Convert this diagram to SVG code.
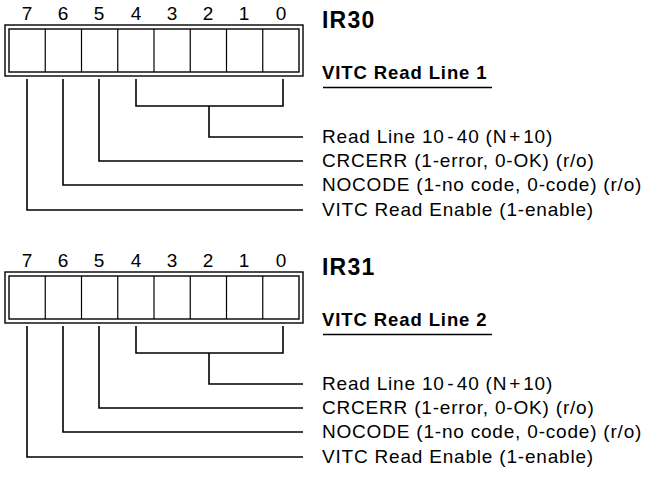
<svg xmlns="http://www.w3.org/2000/svg" width="656" height="480" viewBox="0 0 656 480">
<style>
.box{fill:none;stroke:#000;stroke-width:1.4}
.cell{stroke:#000;stroke-width:1.2}
.num{font-family:"Liberation Sans",Arial,sans-serif;font-size:19px;text-anchor:middle;fill:#000}
.lbl{font-family:"Liberation Sans",Arial,sans-serif;font-size:19px;letter-spacing:0.8px;fill:#000}
.title{font-family:"Liberation Sans",Arial,sans-serif;font-size:23px;font-weight:bold;letter-spacing:1.2px;fill:#000}
.sub{font-family:"Liberation Sans",Arial,sans-serif;font-size:18.5px;font-weight:bold;letter-spacing:0.9px;fill:#000}
.wire{fill:none;stroke:#000;stroke-width:1.6}
</style>
<defs>
<g id="reg">
<rect class="box" x="5" y="25" width="298" height="51"/>
<rect class="box" x="9" y="29" width="290" height="43"/>
<g class="cell">
<line x1="45.25" y1="29" x2="45.25" y2="72"/>
<line x1="81.5" y1="29" x2="81.5" y2="72"/>
<line x1="117.75" y1="29" x2="117.75" y2="72"/>
<line x1="154" y1="29" x2="154" y2="72"/>
<line x1="190.25" y1="29" x2="190.25" y2="72"/>
<line x1="226.5" y1="29" x2="226.5" y2="72"/>
<line x1="262.75" y1="29" x2="262.75" y2="72"/>
</g>
<g class="num">
<text x="27" y="20">7</text><text x="63" y="20">6</text><text x="99" y="20">5</text><text x="136" y="20">4</text>
<text x="172" y="20">3</text><text x="208" y="20">2</text><text x="244" y="20">1</text><text x="281" y="20">0</text>
</g>
</g>
<g id="wires">
<path class="wire" d="M136,79 V106 H283 V79 M209,106 V137 H303"/>
<path class="wire" d="M99,79 V161 H303"/>
<path class="wire" d="M63,79 V185 H303"/>
<path class="wire" d="M27,79 V210 H303"/>
</g>
<g id="labels">
<text class="lbl" x="322" y="143">Read Line 10<tspan dx="2.5">-</tspan><tspan dx="2.5">40 (N</tspan><tspan dx="2">+</tspan><tspan dx="2">10)</tspan></text>
<text class="lbl" x="322" y="167">CRCERR (1-error, 0-OK) (r/o)</text>
<text class="lbl" x="322" y="191">NOCODE (1-no code, 0-code) (r/o)</text>
<text class="lbl" x="322" y="216">VITC Read Enable (1-enable)</text>
</g>
</defs>
<g id="IR30">
<use href="#reg"/>
<text class="title" x="322" y="28">IR30</text>
<text class="sub" x="322" y="79">VITC Read Line 1</text>
<line x1="323" y1="87.5" x2="492" y2="87.5" stroke="#000" stroke-width="1.6"/>
<use href="#labels"/>
</g>
<g id="IR31" transform="translate(0,247)">
<use href="#reg"/>
<text class="title" x="322" y="28">IR31</text>
<text class="sub" x="322" y="79">VITC Read Line 2</text>
<line x1="323" y1="87.5" x2="492" y2="87.5" stroke="#000" stroke-width="1.6"/>
<use href="#labels"/>
</g>
<g id="connectors">
<use href="#wires"/>
<use href="#wires" transform="translate(0,247)"/>
</g>
</svg>
